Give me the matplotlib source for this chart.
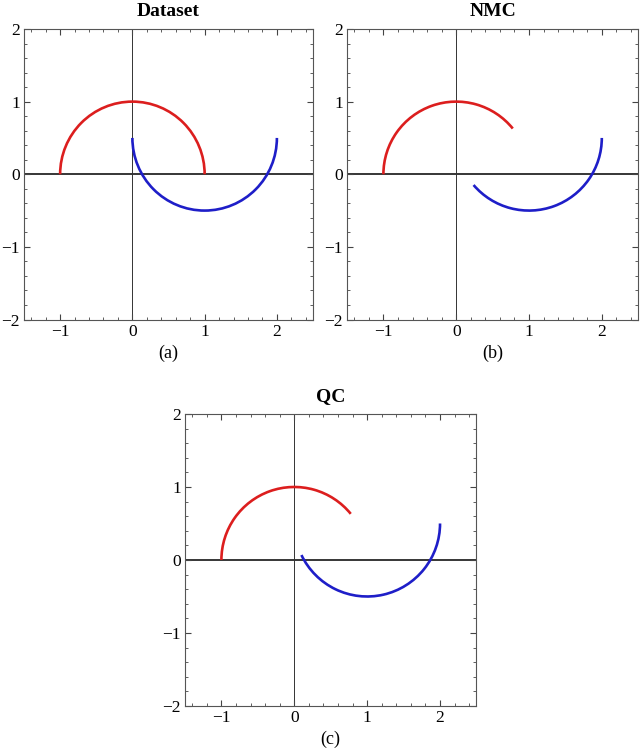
import matplotlib
matplotlib.use("Agg")
import matplotlib.pyplot as plt
from matplotlib.patches import Arc
from matplotlib.ticker import MultipleLocator

# Panel titles and sub-labels
titles = ["Dataset", "NMC", "QC"]
sublabels = ["(a)", "(b)", "(c)"]

# Moon arcs: centre, radius, start/end angle (degrees)
red_center = (0.0, 0.0)
blue_center = (1.0, 0.5)
radius = 1.0
red_theta = [(0.0, 180.0), (39.0, 180.0), (39.2, 180.0)]
blue_theta = [(180.0, 360.0), (220.4, 360.0), (205.6, 360.0)]

xlim = (-1.5, 2.5)
ylim = (-2.0, 2.0)
xticks = [-1, 0, 1, 2]
yticks = [-2, -1, 0, 1, 2]

red = "#dc1e1e"
blue = "#1e1ec8"

plt.rcParams["font.family"] = ["Liberation Serif", "DejaVu Serif"]

fig = plt.figure(figsize=(6.4, 7.49), dpi=100)
positions = [
    [0.0375, 0.5734, 0.4516, 0.3879],
    [0.5422, 0.5734, 0.4550, 0.3879],
    [0.2890, 0.0574, 0.4555, 0.3899],
]

for i, pos in enumerate(positions):
    ax = fig.add_axes(pos)
    ax.set_xlim(*xlim)
    ax.set_ylim(*ylim)
    ax.axhline(0, color="black", lw=1.1, zorder=1)
    ax.axvline(0, color="#333333", lw=0.7, zorder=1)
    t1, t2 = red_theta[i]
    ax.add_patch(Arc(red_center, 2 * radius, 2 * radius, theta1=t1, theta2=t2,
                     color=red, lw=1.9, zorder=3))
    t1, t2 = blue_theta[i]
    ax.add_patch(Arc(blue_center, 2 * radius, 2 * radius, theta1=t1, theta2=t2,
                     color=blue, lw=1.9, zorder=3))
    ax.set_xticks(xticks)
    ax.set_yticks(yticks)
    ax.xaxis.set_minor_locator(MultipleLocator(0.2))
    ax.yaxis.set_minor_locator(MultipleLocator(0.2))
    ax.tick_params(which="both", direction="in", top=True, right=True,
                   color="#444444", labelsize=12.5)
    ax.tick_params(which="major", length=4, width=0.8, pad=3)
    ax.tick_params(which="minor", length=2, width=0.6)
    for sp in ax.spines.values():
        sp.set_color("#555555")
        sp.set_linewidth(0.8)
    ax.set_title(titles[i], fontsize=14, fontweight="bold", pad=9)
    ax.text(0.5, -0.115, sublabels[i], transform=ax.transAxes,
            ha="center", va="center", fontsize=13)

fig.savefig("out.png", dpi=100)
